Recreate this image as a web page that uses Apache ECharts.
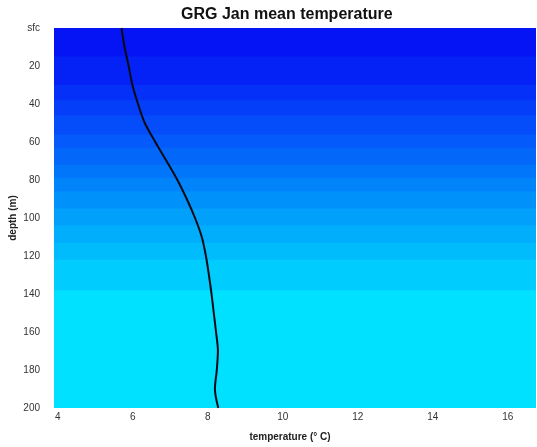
<!DOCTYPE html>
<html>
<head>
<meta charset="utf-8">
<script src="https://cdn.jsdelivr.net/npm/echarts@6/dist/echarts.min.js"></script>
<style>
  html, body { margin: 0; padding: 0; background: #fff; }
  #chart { width: 537px; height: 447px; }
</style>
</head>
<body>
<div id="chart"></div>
<script>
// depth (m) and mean January temperature (°C)
var depths = [0, 10, 20, 30, 40, 50, 60, 70, 80, 90, 100, 110, 120, 130, 140, 150, 160, 170, 180, 190, 200];
var temps = [5.70, 5.78, 5.89, 5.99, 6.14, 6.32, 6.60, 6.90, 7.19, 7.44, 7.66, 7.84, 7.95, 8.03, 8.10, 8.16, 8.22, 8.27, 8.24, 8.19, 8.28];

var xTicks = [4, 6, 8, 10, 12, 14, 16];

// background depth bands: each starts at bandTops[i] and runs to the bottom
var bandTops = [0, 15, 30, 38, 46, 56, 63, 72, 79, 86, 95, 104, 113, 122, 138];
var bandColors = ["#0414f4", "#0522f6", "#0530f8", "#053ef9", "#054cfa", "#045afa", "#0368fa",
  "#0276fa", "#0184fa", "#0092fa", "#00a0fb", "#00aefc", "#00bcfd", "#00ccfe", "#00e0ff"];

var chart = echarts.init(document.getElementById("chart"));

// overlapping bands so no seams show between them
var bands = bandTops.map(function (t, i) {
  return [{ yAxis: t, itemStyle: { color: bandColors[i], opacity: 1, borderWidth: 0 } }, { yAxis: 200 }];
});

chart.setOption({
  animation: false,
  textStyle: { fontFamily: "Liberation Sans, Arial, sans-serif" },
  title: {
    text: "GRG Jan mean temperature",
    left: 176,
    top: 2,
    textStyle: { fontSize: 16, fontWeight: "bold", color: "#111" }
  },
  grid: { left: 54, right: 1, top: 28, bottom: 39, outerBoundsMode: "none" },
  xAxis: {
    type: "value",
    min: 3.9,
    max: 16.75,
    name: "temperature (° C)",
    nameLocation: "middle",
    nameGap: 24,
    nameMoveOverlap: false,
    nameTextStyle: { fontSize: 10, fontWeight: "bold", color: "#222", padding: [0, 10, 0, 0] },
    axisLine: { show: false },
    axisTick: { show: false },
    splitLine: { show: false },
    axisLabel: { customValues: xTicks, fontSize: 10, color: "#333", margin: 4 }
  },
  yAxis: {
    type: "value",
    inverse: true,
    min: 0,
    max: 200,
    interval: 20,
    name: "depth (m)",
    nameLocation: "middle",
    nameGap: 36,
    nameRotate: 90,
    nameMoveOverlap: false,
    nameTextStyle: { fontSize: 10, fontWeight: "bold", color: "#222" },
    axisLine: { show: false },
    axisTick: { show: false },
    splitLine: { show: false },
    axisLabel: {
      fontSize: 10,
      color: "#333",
      margin: 14,
      formatter: function (v) { return v === 0 ? "sfc" : String(v); }
    }
  },
  series: [{
    type: "line",
    data: depths.map(function (d, i) { return [temps[i], d]; }),
    smooth: 0.3,
    showSymbol: false,
    lineStyle: { color: "#0a0a14", width: 2 },
    markArea: { silent: true, data: bands },
    z: 3
  }]
});
</script>
</body>
</html>
